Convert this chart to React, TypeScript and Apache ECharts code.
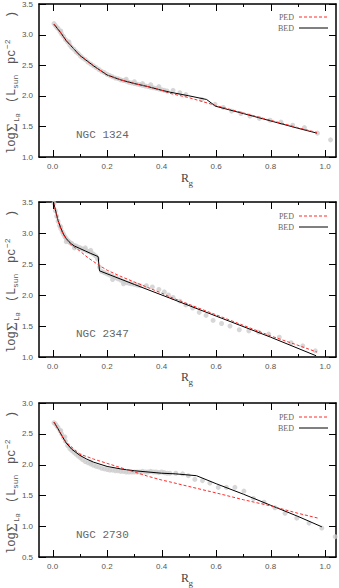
import React, { useEffect, useRef } from "react";
import * as echarts from "echarts";

// ---------- tick values ----------
const xMajorTicks = [0, 0.2, 0.4, 0.6, 0.8, 1.0];
const xMinorTicks = [0.1, 0.3, 0.5, 0.7, 0.9];
const yTicksA = [1.0, 1.5, 2.0, 2.5, 3.0, 3.5];
const yTicksB = [0.5, 1.0, 1.5, 2.0, 2.5, 3.0];
const yTickSets = [yTicksA, yTicksA, yTicksB];
const panelNames = ["NGC 1324", "NGC 2347", "NGC 2730"];
const yMins = [1.0, 1.0, 0.5];
const yMaxs = [3.5, 3.5, 3.0];
const X_MIN = -0.05;
const X_MAX = 1.04;

// ---------- NGC 1324 ----------
const obs1324 = [
  [0.005, 3.18], [0.01, 3.15], [0.015, 3.12], [0.02, 3.1], [0.027, 3.05], [0.033, 3.01], [0.04, 2.97],
  [0.047, 2.92], [0.055, 2.88], [0.063, 2.83], [0.07, 2.79], [0.078, 2.76], [0.086, 2.72], [0.094, 2.69],
  [0.102, 2.65], [0.11, 2.62], [0.12, 2.59], [0.13, 2.55], [0.14, 2.52], [0.15, 2.49], [0.16, 2.46],
  [0.17, 2.43], [0.18, 2.4], [0.19, 2.38], [0.2, 2.35], [0.21, 2.33], [0.22, 2.31], [0.23, 2.29],
  [0.24, 2.28], [0.25, 2.26], [0.26, 2.25], [0.27, 2.24], [0.28, 2.22], [0.29, 2.21], [0.3, 2.2],
  [0.31, 2.19], [0.32, 2.18], [0.33, 2.17], [0.34, 2.16], [0.35, 2.15], [0.36, 2.14], [0.37, 2.13],
  [0.38, 2.12], [0.39, 2.11], [0.4, 2.1], [0.41, 2.09], [0.42, 2.08],
  [0.27, 2.27], [0.3, 2.23], [0.33, 2.2], [0.36, 2.18], [0.39, 2.15], [0.03, 3.06], [0.06, 2.88],
  [0.442, 2.09], [0.467, 2.05], [0.489, 2.02], [0.547, 1.94], [0.596, 1.86], [0.626, 1.81],
  [0.657, 1.75], [0.691, 1.71], [0.724, 1.67], [0.759, 1.63], [0.798, 1.6], [0.838, 1.57],
  [0.881, 1.52], [0.924, 1.48], [0.972, 1.39], [1.02, 1.28],
];
const ped1324 = [
  [0.005, 3.17], [0.03, 3.03], [0.05, 2.9], [0.1, 2.66], [0.15, 2.49], [0.2, 2.34], [0.25, 2.26],
  [0.3, 2.2], [0.35, 2.15], [0.4, 2.09], [0.43, 2.04], [0.5, 1.97], [0.57, 1.88], [0.6, 1.84],
  [0.7, 1.72], [0.8, 1.6], [0.9, 1.48], [0.97, 1.4],
];
const bed1324 = [
  [0.005, 3.17], [0.03, 3.03], [0.05, 2.9], [0.1, 2.66], [0.15, 2.49], [0.2, 2.34], [0.25, 2.26],
  [0.3, 2.2], [0.35, 2.15], [0.4, 2.09], [0.43, 2.06], [0.5, 2.0], [0.565, 1.94], [0.598, 1.83],
  [0.7, 1.71], [0.8, 1.59], [0.9, 1.47], [0.97, 1.39],
];

// ---------- NGC 2347 ----------
const obs2347 = [
  [0.005, 3.48], [0.01, 3.36], [0.015, 3.27], [0.02, 3.19], [0.025, 3.12], [0.03, 3.07], [0.035, 3.02],
  [0.04, 2.98], [0.045, 2.94], [0.05, 2.91], [0.055, 2.88], [0.06, 2.86], [0.065, 2.84], [0.07, 2.83],
  [0.078, 2.8], [0.086, 2.79], [0.094, 2.77], [0.102, 2.76], [0.11, 2.74], [0.118, 2.73], [0.126, 2.71],
  [0.134, 2.7], [0.142, 2.68], [0.15, 2.66], [0.158, 2.63], [0.165, 2.58], [0.172, 2.45], [0.18, 2.38],
  [0.19, 2.36], [0.2, 2.34], [0.21, 2.32], [0.22, 2.3], [0.23, 2.28], [0.24, 2.26], [0.25, 2.24],
  [0.26, 2.22], [0.27, 2.2], [0.28, 2.19], [0.29, 2.18], [0.3, 2.17], [0.31, 2.16], [0.32, 2.15],
  [0.344, 2.15], [0.366, 2.13], [0.39, 2.09], [0.41, 2.05], [0.425, 2.0],
  [0.03, 3.1], [0.05, 2.86], [0.08, 2.76], [0.12, 2.76], [0.14, 2.72], [0.22, 2.25], [0.26, 2.18],
  [0.442, 1.96], [0.467, 1.9], [0.489, 1.84], [0.514, 1.79], [0.538, 1.72], [0.563, 1.67],
  [0.589, 1.59], [0.62, 1.54], [0.651, 1.5], [0.685, 1.44], [0.72, 1.42], [0.756, 1.4],
  [0.793, 1.37], [0.832, 1.32], [0.875, 1.23], [0.918, 1.18], [0.964, 1.1],
];
const ped2347 = [
  [0.003, 3.5], [0.01, 3.36], [0.02, 3.19], [0.03, 3.06], [0.04, 2.97], [0.05, 2.9], [0.07, 2.8],
  [0.1, 2.71], [0.13, 2.6], [0.17, 2.48], [0.2, 2.4], [0.25, 2.3], [0.3, 2.21], [0.35, 2.12],
  [0.4, 2.03], [0.43, 1.97], [0.5, 1.85], [0.6, 1.68], [0.7, 1.51], [0.8, 1.34], [0.9, 1.19],
  [0.97, 1.08],
];
const bed2347 = [
  [0.003, 3.5], [0.01, 3.38], [0.02, 3.2], [0.03, 3.08], [0.04, 2.98], [0.05, 2.91], [0.06, 2.86],
  [0.07, 2.82], [0.08, 2.79], [0.1, 2.75], [0.12, 2.71], [0.14, 2.67], [0.167, 2.62], [0.172, 2.39],
  [0.3, 2.17], [0.43, 1.95], [0.6, 1.66], [0.8, 1.32], [0.967, 1.02],
];

// ---------- NGC 2730 ----------
const obs2730 = [
  [0.005, 2.68], [0.01, 2.66], [0.015, 2.63], [0.02, 2.6], [0.027, 2.55], [0.033, 2.5], [0.04, 2.44],
  [0.047, 2.38], [0.055, 2.31], [0.063, 2.26], [0.07, 2.23], [0.078, 2.2], [0.086, 2.17], [0.094, 2.14],
  [0.102, 2.11], [0.11, 2.08], [0.12, 2.05], [0.13, 2.03], [0.14, 2.01], [0.15, 1.99], [0.16, 1.97],
  [0.17, 1.96], [0.18, 1.94], [0.19, 1.93], [0.2, 1.92], [0.21, 1.91], [0.22, 1.91], [0.23, 1.9],
  [0.24, 1.9], [0.25, 1.89], [0.26, 1.89], [0.27, 1.88], [0.28, 1.88], [0.29, 1.88], [0.3, 1.88],
  [0.31, 1.88], [0.32, 1.88], [0.33, 1.89], [0.34, 1.88], [0.35, 1.88], [0.36, 1.89], [0.37, 1.88],
  [0.38, 1.88], [0.39, 1.87], [0.4, 1.88], [0.41, 1.87], [0.42, 1.86],
  [0.03, 2.55], [0.045, 2.45], [0.1, 2.15], [0.14, 2.04],
  [0.43, 1.86], [0.452, 1.86], [0.477, 1.85], [0.498, 1.82], [0.522, 1.76], [0.55, 1.74],
  [0.577, 1.7], [0.608, 1.63], [0.638, 1.63], [0.669, 1.63], [0.702, 1.57], [0.737, 1.45],
  [0.776, 1.39], [0.816, 1.3], [0.853, 1.21], [0.896, 1.13], [0.941, 1.05], [0.988, 0.97],
  [1.037, 0.83],
];
const ped2730 = [
  [0.005, 2.69], [0.02, 2.57], [0.05, 2.36], [0.1, 2.17], [0.15, 2.09], [0.2, 2.02], [0.25, 1.95],
  [0.3, 1.88], [0.35, 1.81], [0.4, 1.75], [0.43, 1.72], [0.5, 1.645], [0.6, 1.54], [0.7, 1.43],
  [0.8, 1.33], [0.9, 1.21], [0.975, 1.13],
];
const bed2730 = [
  [0.005, 2.69], [0.02, 2.58], [0.035, 2.46], [0.05, 2.35], [0.07, 2.25], [0.1, 2.15], [0.125, 2.09],
  [0.15, 2.04], [0.2, 1.97], [0.25, 1.93], [0.3, 1.9], [0.35, 1.88], [0.4, 1.86], [0.45, 1.85],
  [0.528, 1.82], [0.6, 1.69], [0.7, 1.52], [0.8, 1.34], [0.9, 1.16], [0.988, 0.99],
];

const observed = [obs1324, obs2347, obs2730];
const pedCurves = [ped1324, ped2347, ped2730];
const bedCurves = [bed1324, bed2347, bed2730];

// layout
const gridTops = [3, 202, 403];
const gridHeights = [154, 155, 154];
const GL = 39;
const GW = 297;

const MONO = "'Liberation Mono', 'DejaVu Sans Mono', monospace";
const SERIF = "'Liberation Serif', 'DejaVu Serif', serif";
const SANS = "'Liberation Sans', Arial, sans-serif";

function buildOption() {
  const grid: any[] = [];
  const xAxis: any[] = [];
  const yAxis: any[] = [];
  const series: any[] = [];

  for (let i = 0; i < 3; i++) {
    const top = gridTops[i];
    const lineOn = () => ({ show: true, onZero: false, lineStyle: { color: "#000", width: 1.5 } });
    grid.push({ left: GL, top, width: GW, height: gridHeights[i] });
    const baseX = () => ({
      gridIndex: i, type: "value", min: X_MIN, max: X_MAX,
      splitLine: { show: false }, axisLine: lineOn(), axisTick: { show: false },
    });
    xAxis.push({
      ...baseX(), position: "bottom",
      axisLabel: {
        show: true, customValues: xMajorTicks.slice(), formatter: (v: number) => v.toFixed(1),
        fontSize: 8, color: "#555", margin: 5, fontFamily: SANS,
      },
    });
    xAxis.push({ ...baseX(), position: "top", axisLabel: { show: false } });

    const baseY = () => ({
      gridIndex: i, type: "value", min: yMins[i], max: yMaxs[i], interval: 0.5,
      splitLine: { show: false }, axisLine: lineOn(), axisTick: { show: false },
    });
    yAxis.push({
      ...baseY(), position: "left",
      axisLabel: { formatter: (v: number) => v.toFixed(1), fontSize: 8, color: "#555", margin: 6, fontFamily: SANS },
    });
    yAxis.push({ ...baseY(), position: "right", axisLabel: { show: false } });

    series.push({
      type: "scatter", xAxisIndex: 2 * i, yAxisIndex: 2 * i, data: observed[i],
      symbolSize: 5, itemStyle: { color: "#cdcdcd" }, z: 1,
    });
    series.push({
      type: "line", name: "BED", xAxisIndex: 2 * i, yAxisIndex: 2 * i, data: bedCurves[i],
      showSymbol: false, lineStyle: { color: "#000", width: 1 }, z: 2,
    });
    series.push({
      type: "line", name: "PED", xAxisIndex: 2 * i, yAxisIndex: 2 * i, data: pedCurves[i],
      showSymbol: false, lineStyle: { color: "#ff2a2a", width: 1, type: [3, 2] }, z: 3,
    });
  }
  return { animation: false, grid, xAxis, yAxis, series };
}

function buildTextGraphics() {
  const graphic: any[] = [];
  for (let i = 0; i < 3; i++) {
    const top = gridTops[i];
    graphic.push({
      type: "text", x: 76, y: top + 132,
      style: { text: panelNames[i], font: `11px ${MONO}`, fill: "#666", textAlign: "left", textVerticalAlign: "middle" },
    });
    graphic.push({
      type: "text", x: 294, y: top + 14.5,
      style: { text: "PED", font: `8px ${SERIF}`, fill: "#666", textAlign: "right", textVerticalAlign: "middle" },
    });
    graphic.push({
      type: "line", shape: { x1: 299, y1: top + 14, x2: 328, y2: top + 14 },
      style: { stroke: "#ff2a2a", lineWidth: 1, lineDash: [3, 2] },
    });
    graphic.push({
      type: "text", x: 294, y: top + 25.5,
      style: { text: "BED", font: `8px ${SERIF}`, fill: "#666", textAlign: "right", textVerticalAlign: "middle" },
    });
    graphic.push({
      type: "line", shape: { x1: 299, y1: top + 25, x2: 328, y2: top + 25 },
      style: { stroke: "#000", lineWidth: 1 },
    });
    graphic.push({
      type: "text", x: 181, y: top + 175,
      style: { text: "R", font: `12px ${SERIF}`, fill: "#444", textAlign: "left", textVerticalAlign: "middle" },
    });
    graphic.push({
      type: "text", x: 188.5, y: top + 180,
      style: { text: "g", font: `9px ${SERIF}`, fill: "#444", textAlign: "left", textVerticalAlign: "middle" },
    });
    const tStyle = (text: string, size: number, fam: string) => ({
      text, font: `${size}px ${fam}`, fill: "#555", textAlign: "left", textVerticalAlign: "middle",
    });
    graphic.push({
      type: "group", x: 12, y: top + 151, rotation: Math.PI / 2,
      children: [
        { type: "text", x: 0, y: 0, style: tStyle("log", 12, MONO) },
        { type: "text", x: 22, y: 0, style: tStyle("Σ", 15, SERIF) },
        { type: "text", x: 32, y: 4, style: tStyle("L", 8, MONO) },
        { type: "text", x: 37, y: 6.5, style: tStyle("B", 6, MONO) },
        { type: "text", x: 51, y: 0, style: tStyle("(", 12, MONO) },
        { type: "text", x: 58, y: 0, style: tStyle("L", 12, MONO) },
        { type: "text", x: 65, y: 3, style: tStyle("sun", 8, MONO) },
        { type: "text", x: 90, y: 0, style: tStyle("pc", 12, MONO) },
        { type: "text", x: 105, y: -5, style: tStyle("−2", 8, MONO) },
        { type: "text", x: 136, y: 0, style: tStyle(")", 12, MONO) },
      ],
    });
  }
  return graphic;
}

// pixel position through the chart's own scales, with fallbacks
function toPx(chart: any, i: number, x: number, y: number): number[] | null {
  let p: any = null;
  try {
    p = chart.convertToPixel({ gridIndex: i }, [x, y]);
  } catch (e) {
    p = null;
  }
  if (!p || !isFinite(p[0]) || !isFinite(p[1])) {
    try {
      const px = chart.convertToPixel({ xAxisIndex: 2 * i }, x);
      const py = chart.convertToPixel({ yAxisIndex: 2 * i }, y);
      p = [px, py];
    } catch (e) {
      p = null;
    }
  }
  if (!p || !isFinite(p[0]) || !isFinite(p[1])) return null;
  return p;
}

// inward tick marks on all four sides
function buildTicks(chart: any) {
  const els: any[] = [];
  const crisp = (v: number) => Math.round(v) + 0.5;
  const seg = (x1: number, y1: number, x2: number, y2: number) => ({
    type: "line", silent: true, z: 10,
    shape: { x1, y1, x2, y2 },
    style: { stroke: "#000", lineWidth: 1 },
  });
  for (let i = 0; i < 3; i++) {
    const addX = (vals: number[], len: number) => {
      vals.forEach((v) => {
        const pb = toPx(chart, i, v, yMins[i]);
        const pt = toPx(chart, i, v, yMaxs[i]);
        if (!pb || !pt) return;
        const x = crisp(pb[0]);
        els.push(seg(x, pb[1], x, pb[1] - len));
        els.push(seg(x, pt[1], x, pt[1] + len));
      });
    };
    addX(xMajorTicks, 7);
    addX(xMinorTicks, 3);
    yTickSets[i].forEach((v) => {
      const pl = toPx(chart, i, X_MIN, v);
      const pr = toPx(chart, i, X_MAX, v);
      if (!pl || !pr) return;
      const y = crisp(pl[1]);
      els.push(seg(pl[0], y, pl[0] + 7, y));
      els.push(seg(pr[0], y, pr[0] - 7, y));
    });
  }
  return els;
}

export default function App() {
  const ref = useRef<HTMLDivElement>(null);
  useEffect(() => {
    if (!ref.current) return;
    const chart = echarts.init(ref.current, undefined, { renderer: "svg" });
    chart.setOption(buildOption() as any);
    const ticks = buildTicks(chart);
    chart.setOption({ graphic: [...buildTextGraphics(), ...ticks] } as any);
    return () => chart.dispose();
  }, []);
  return (
    <div
      ref={ref}
      style={{ position: "absolute", left: 0, top: 0, width: 339, height: 588, background: "#fff" }}
    />
  );
}
